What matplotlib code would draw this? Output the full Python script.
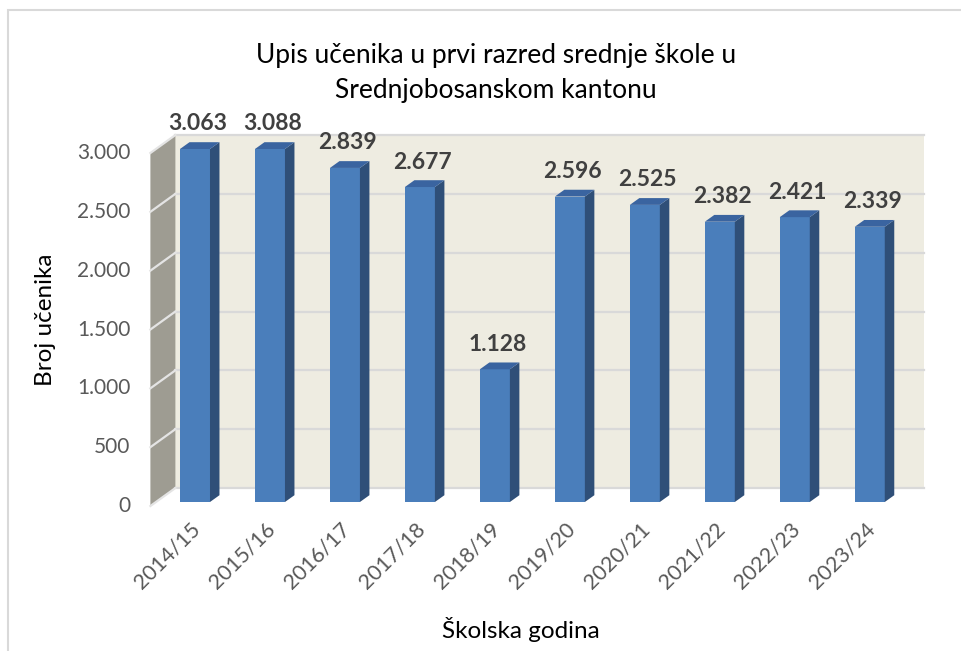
import matplotlib.pyplot as plt
import matplotlib.patches as mpatches
import numpy as np

# data
years = ["2014/15", "2015/16", "2016/17", "2017/18", "2018/19",
         "2019/20", "2020/21", "2021/22", "2022/23", "2023/24"]
students = [3063, 3088, 2839, 2677, 1128, 2596, 2525, 2382, 2421, 2339]
yticks = [0, 500, 1000, 1500, 2000, 2500, 3000]
ymax = 3000

title = "Upis učenika u prvi razred srednje škole u\nSrednjobosanskom kantonu"
xlabel = "Školska godina"
ylabel = "Broj učenika"

plt.rcParams['font.family'] = ['Lato', 'DejaVu Sans']

W, H = 961, 651
fig = plt.figure(figsize=(W / 100, H / 100), dpi=100)

# outer chart frame
fig.patches.append(mpatches.Rectangle((8 / W, -0.05), 1.1, (H - 10) / H + 0.05,
                                      transform=fig.transFigure, fill=False,
                                      edgecolor='#d9d9d9', lw=1.5))

# axes = front plane of the bars
x0, x1 = -0.52, 9.47
left_px, right_px = 156, 905
bot_px, top_px = 502, 149
ax = fig.add_axes([left_px / W, (H - bot_px) / H,
                   (right_px - left_px) / W, (bot_px - top_px) / H])
ax.set_xlim(x0, x1)
ax.set_ylim(0, ymax)
ax.axis('off')


def shift(x, y, dx, dy):
    # move a data point by (dx, dy) screen pixels
    p = ax.transData.transform((x, y)) + np.array([dx, dy])
    return ax.transData.inverted().transform(p)


# depth offsets (pixels) of wall front / wall back relative to bar front plane
front = (-5.6, -4.0)
back = (19.4, 14.0)
bar_d = (9.5, 6.8)


def poly(pts, **kw):
    ax.add_patch(mpatches.Polygon(pts, closed=True, clip_on=False, **kw))


# back wall
poly([shift(x0, 0, *back), shift(x1, 0, *back),
      shift(x1, ymax, *back), shift(x0, ymax, *back)],
     facecolor='#eeece1', edgecolor='none', zorder=0)
# left wall
poly([shift(x0, 0, *front), shift(x0, 0, *back),
      shift(x0, ymax, *back), shift(x0, ymax, *front)],
     facecolor='#9e9c92', edgecolor='none', zorder=0)

# gridlines on back and left wall
for t in yticks:
    a, b = shift(x0, t, *back), shift(x1, t, *back)
    ax.plot([a[0], b[0]], [a[1], b[1]], color='#d9d9d9', lw=1.6,
            clip_on=False, zorder=1)
    c = shift(x0, t, *front)
    ax.plot([c[0], a[0]], [c[1], a[1]], color='#e4e4e4', lw=1.6,
            clip_on=False, zorder=1)
    lab = shift(x0, t, front[0] - 20, front[1])
    ax.text(lab[0], lab[1], f"{t:,}".replace(",", "."), ha='right',
            va='center', fontsize=15, color='#595959')

# bars (clipped at axis maximum like the original)
bw = 0.4
xs = np.arange(len(years))
heights = np.minimum(students, ymax)
ax.bar(xs, heights, width=bw, color='#4a7ebb', zorder=3)
for x, h, v in zip(xs, heights, students):
    r, l = x + bw / 2, x - bw / 2
    poly([(r, 0), shift(r, 0, *bar_d), shift(r, h, *bar_d), (r, h)],
         facecolor='#2f4f78', edgecolor='none', zorder=3)
    poly([(l, h), (r, h), shift(r, h, *bar_d), shift(l, h, *bar_d)],
         facecolor='#3a64a0', edgecolor='none', zorder=3)
    p = shift(x, h, 3, 25)
    ax.text(p[0], p[1], f"{v:,}".replace(",", "."), ha='center', va='center',
            fontsize=16.5, fontweight='bold', color='#404040', zorder=4)

# category labels
for x, name in zip(xs, years):
    p = shift(x, 0, 2, -24)
    ax.text(p[0], p[1], name, rotation=45, ha='right', va='center',
            rotation_mode='anchor', fontsize=15.5, color='#595959')

fig.text(496 / W, 1 - 73 / H, title, ha='center', va='center', fontsize=19,
         color='black', linespacing=1.5)
fig.text(521 / W, 1 - 630 / H, xlabel, ha='center', va='center', fontsize=17.5)
fig.text(45 / W, 1 - 320 / H, ylabel, ha='center', va='center', fontsize=17.5,
         rotation=90)

fig.savefig("out.png", dpi=100)
